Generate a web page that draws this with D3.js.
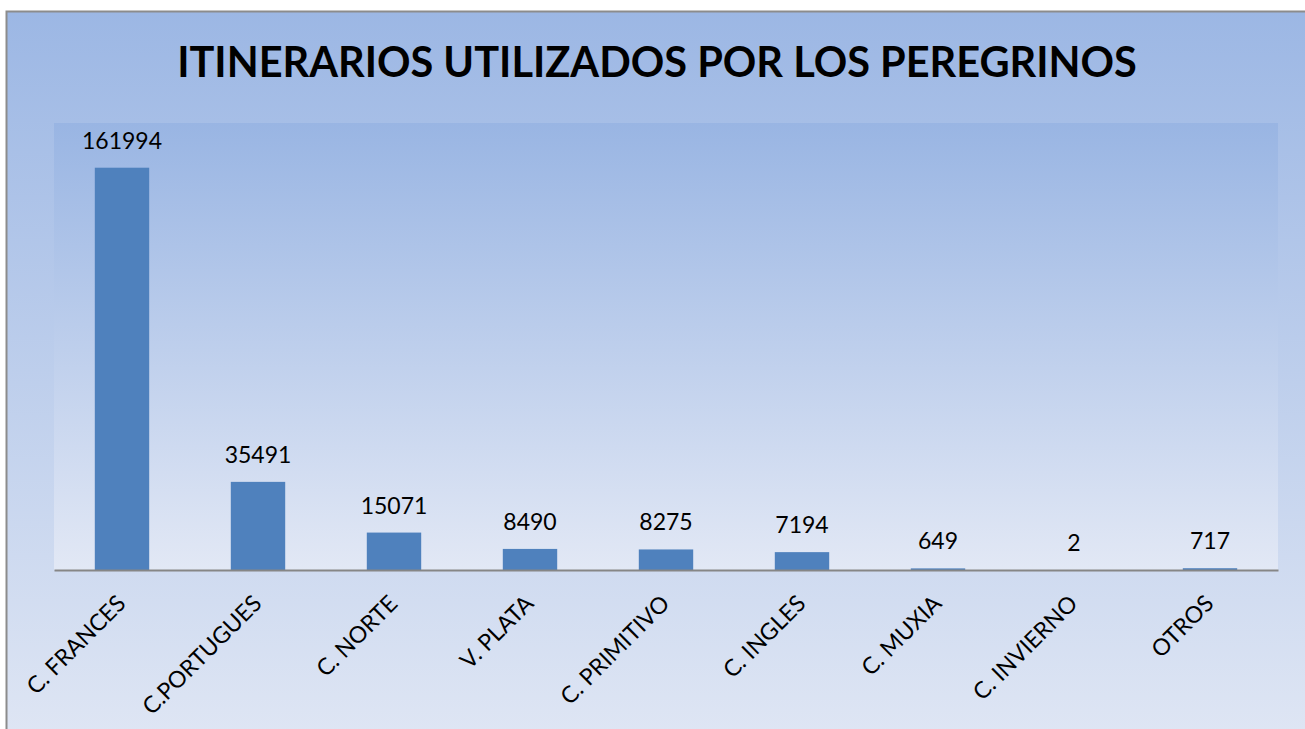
<!DOCTYPE html>
<html>
<head>
<meta charset="utf-8">
<script src="https://cdn.jsdelivr.net/npm/d3@7"></script>
<style>
  body { margin: 0; background: #fff; }
  svg text { font-family: Lato, "Open Sans", sans-serif; }
</style>
</head>
<body>
<svg width="1305" height="729"></svg>
<script>
// data
const categories = ["C. FRANCES", "C.PORTUGUES", "C. NORTE", "V. PLATA", "C. PRIMITIVO",
                    "C. INGLES", "C. MUXIA", "C. INVIERNO", "OTROS"];
const values = [161994, 35491, 15071, 8490, 8275, 7194, 649, 2, 717];
const chartTitle = "ITINERARIOS UTILIZADOS POR LOS PEREGRINOS";

const svg = d3.select("svg");
const defs = svg.append("defs");

const bgGrad = defs.append("linearGradient").attr("id", "bg")
    .attr("x1", 0).attr("y1", 0).attr("x2", 0).attr("y2", 1);
bgGrad.append("stop").attr("offset", "0%").attr("stop-color", "#9cb7e4");
bgGrad.append("stop").attr("offset", "100%").attr("stop-color", "#dfe6f4");

const plotGrad = defs.append("linearGradient").attr("id", "plotbg")
    .attr("x1", 0).attr("y1", 0).attr("x2", 0).attr("y2", 1);
plotGrad.append("stop").attr("offset", "0%").attr("stop-color", "#99b5e3");
plotGrad.append("stop").attr("offset", "100%").attr("stop-color", "#e2e8f5");

// outer chart area
svg.append("rect")
    .attr("x", 6.5).attr("y", 11.5)
    .attr("width", 1310).attr("height", 730)
    .attr("fill", "url(#bg)")
    .attr("stroke", "#8c8c8c")
    .attr("stroke-width", 2);

const margin = {top: 123, right: 27, bottom: 159, left: 54},
    width = 1305 - margin.left - margin.right,
    height = 729 - margin.top - margin.bottom;

const g = svg.append("g")
    .attr("transform", "translate(" + margin.left + "," + margin.top + ")");

g.append("rect")
    .attr("width", width)
    .attr("height", height)
    .attr("fill", "url(#plotbg)");

const x = d3.scaleBand()
    .domain(categories)
    .range([0, width])
    .paddingInner(0.6)
    .paddingOuter(0.3);

const y = d3.scaleLinear()
    .domain([0, 180000])
    .range([height, 0]);

// bars
g.selectAll(".bar")
    .data(categories)
    .enter()
    .append("rect")
    .attr("class", "bar")
    .attr("x", d => x(d))
    .attr("y", (d, i) => y(values[i]))
    .attr("width", x.bandwidth())
    .attr("height", (d, i) => height - y(values[i]))
    .attr("fill", "#4f81bd");

// value labels
g.selectAll(".val")
    .data(categories)
    .enter()
    .append("text")
    .attr("class", "val")
    .attr("x", d => x(d) + x.bandwidth() / 2)
    .attr("y", (d, i) => y(values[i]) - 19)
    .attr("text-anchor", "middle")
    .style("font-size", "23px")
    .attr("fill", "#000")
    .text((d, i) => values[i]);

// x axis
const xAxis = g.append("g")
    .attr("transform", "translate(0," + height + ")")
    .call(d3.axisBottom(x).tickSize(0).tickPadding(0));

xAxis.select(".domain").attr("stroke", "#868686").attr("stroke-width", 2);

xAxis.selectAll("text")
    .attr("transform", "translate(5,35) rotate(-45)")
    .attr("dy", 0)
    .attr("y", 0)
    .style("text-anchor", "end")
    .style("font-size", "23px")
    .style("font-family", "Lato, sans-serif")
    .attr("fill", "#000");

// title
svg.append("text")
    .attr("x", 657)
    .attr("y", 77)
    .attr("text-anchor", "middle")
    .style("font-size", "41.5px")
    .style("font-weight", "bold")
    .attr("fill", "#000")
    .text(chartTitle);
</script>
</body>
</html>
